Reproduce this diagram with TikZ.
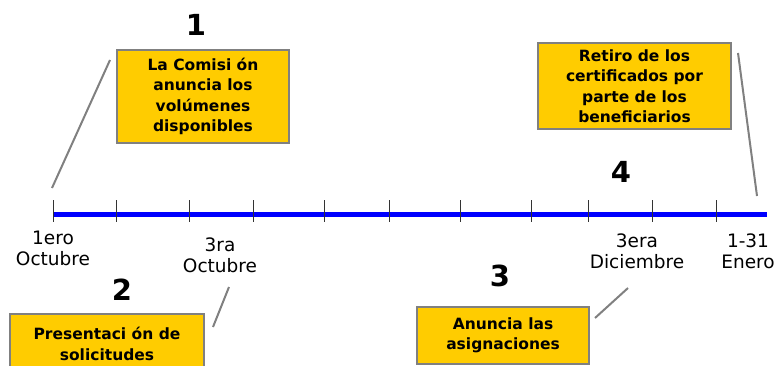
\documentclass[tikz,border=0pt]{standalone}
\usepackage{fontspec}
\setmainfont{DejaVu Sans}
\usepackage{tikz}
\usetikzlibrary{calc}
\usetikzlibrary{positioning}
\definecolor{boxyellow}{RGB}{255,204,0}
\definecolor{boxgray}{RGB}{128,128,128}
\tikzstyle{stepbox} = [rectangle, draw=boxgray, line width=2, fill=boxyellow, align=center, inner sep=0, font=\bfseries\fontsize{15.5}{20.5}\selectfont]
\tikzstyle{stepnum} = [draw=none, inner sep=0, font=\bfseries\fontsize{29}{29}\selectfont]
\tikzstyle{datelab} = [draw=none, inner sep=0, align=center, font=\fontsize{18.5}{21}\selectfont]
\tikzstyle{lead} = [-, draw=boxgray, line width=2]

\begin{document}
\begin{tikzpicture}[x=1pt, y=-1pt]
\useasboundingbox (0, 0) rectangle (775, 366);
%\node [draw=none] at (400, 10) {timeline};
\node [stepbox, minimum width=172, minimum height=93] (B1) at (203, 96.5) {La Comisi ón\\anuncia los\\volúmenes\\disponibles};
\node [stepbox, minimum width=193, minimum height=86] (B4) at (634.5, 86) {Retiro de los\\certificados por\\parte de los\\beneficiarios};
\node [stepbox, minimum width=194, minimum height=60] (B2) at (107, 344) {Presentaci ón de\\solicitudes};
\node [stepbox, minimum width=172, minimum height=57] (B3) at (503, 335.5) {Anuncia las\\asignaciones};
\node [stepnum] (N1) at (196, 25) {1};
\node [stepnum] (N2) at (122, 290) {2};
\node [stepnum] (N3) at (500, 276) {3};
\node [stepnum] (N4) at (621, 172) {4};
\node [datelab] (D1) at (53, 248) {1ero\\Octubre};
\node [datelab] (D2) at (220, 255) {3ra\\Octubre};
\node [datelab] (D3) at (637, 251) {3era\\Diciembre};
\node [datelab] (D4) at (748, 251) {1-31\\Enero};
\coordinate (L1a) at (110, 60);
\coordinate (L1b) at (52, 188);
\coordinate (L2a) at (229, 287);
\coordinate (L2b) at (213, 327);
\coordinate (L3a) at (628, 288);
\coordinate (L3b) at (595, 318);
\coordinate (L4a) at (738, 53);
\coordinate (L4b) at (757, 196);
\coordinate (T0) at (53, 214);
\coordinate (T1) at (767, 214);
\draw [lead] (L1a) to (L1b);
\draw [lead] (L2a) to (L2b);
\draw [lead] (L3a) to (L3b);
\draw [lead] (L4a) to (L4b);
\draw [-, draw=blue, line width=5] (T0) to (T1);
\foreach \x in {53, 116, 189, 253, 324, 389, 460, 531, 588, 652, 716}
  \draw [-, draw=black!80, line width=1] (\x, 200) to (\x, 222);
\end{tikzpicture}
\end{document}
